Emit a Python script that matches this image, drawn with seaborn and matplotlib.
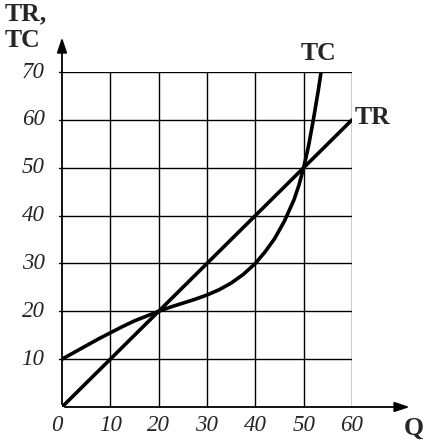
import matplotlib
matplotlib.use('Agg')
import matplotlib.pyplot as plt
import seaborn as sns
import pandas as pd

# data
q_tr = [0, 60]
tr = [0, 60]

q_tc = [0, 2.5, 5, 7.5, 10, 12.5, 15, 17.5, 20, 22.5, 25, 27.5, 30, 32.5, 35, 37.5,
        40, 42, 44, 46, 48, 49, 50, 51, 52, 53, 53.6]
tc = [10, 11.4, 12.8, 14.2, 15.5, 16.8, 18, 19, 20, 20.9, 21.7, 22.5, 23.4, 24.5, 25.9, 27.7,
      30, 32.4, 35.2, 38.8, 43.3, 46.3, 50, 54.5, 60, 66, 70]

x_ticks = [0, 10, 20, 30, 40, 50, 60]
y_ticks = [10, 20, 30, 40, 50, 60, 70]

sns.set_style('white')
plt.rcParams['font.family'] = ['Liberation Serif', 'DejaVu Serif']

fig = plt.figure(figsize=(4.23, 4.40), dpi=100)
ax = fig.add_axes([62 / 423, 33 / 440, 290 / 423, 335 / 440])

# grid
for x in x_ticks[1:]:
    ax.plot([x, x], [0, 70], color='black', lw=1.0, zorder=1)
for y in y_ticks:
    ax.plot([0, 60], [y, y], color='black', lw=1.0, zorder=1)

df_tr = pd.DataFrame({'Q': q_tr, 'TR': tr})
df_tc = pd.DataFrame({'Q': q_tc, 'TC': tc})
sns.lineplot(data=df_tr, x='Q', y='TR', ax=ax, color='black', lw=2.6, zorder=3)
sns.lineplot(data=df_tc, x='Q', y='TC', ax=ax, color='black', lw=2.6, zorder=3)

ax.set_xlim(0, 60)
ax.set_ylim(0, 70)
for s in ax.spines.values():
    s.set_visible(False)
ax.set_xlabel('')
ax.set_ylabel('')
ax.set_xticks([])
ax.set_yticks([])

# sumbu dengan panah
ax.annotate('', xy=(0, 77.8), xytext=(0, 0), annotation_clip=False,
            arrowprops=dict(arrowstyle='-|>,head_length=0.9,head_width=0.3', color='black', lw=1.3))
ax.annotate('', xy=(72.5, 0), xytext=(0, 0), annotation_clip=False,
            arrowprops=dict(arrowstyle='-|>,head_length=0.9,head_width=0.3', color='black', lw=1.3))

# label tick
for y in y_ticks:
    ax.plot([-0.6, 0], [y, y], color='black', lw=1.0, clip_on=False)
    ax.text(-3.6, y, str(y), ha='right', va='center', fontsize=16.5, style='italic')
for x in x_ticks:
    xx = x - 1.0 if x == 0 else x
    ax.text(xx, -3.9, str(x), ha='center', va='center', fontsize=16.5, style='italic')

ax.text(-11.8, 79.4, 'TR,\nTC', ha='left', va='center', fontsize=18.5, fontweight='bold',
        linespacing=1.2)
ax.text(70.8, -4.4, 'Q', ha='left', va='center', fontsize=18.5, fontweight='bold')
ax.text(53.0, 73.8, 'TC', ha='center', va='center', fontsize=18.5, fontweight='bold')
ax.text(60.6, 60.5, 'TR', ha='left', va='center', fontsize=18.5, fontweight='bold')

fig.savefig('out.png', dpi=100)
